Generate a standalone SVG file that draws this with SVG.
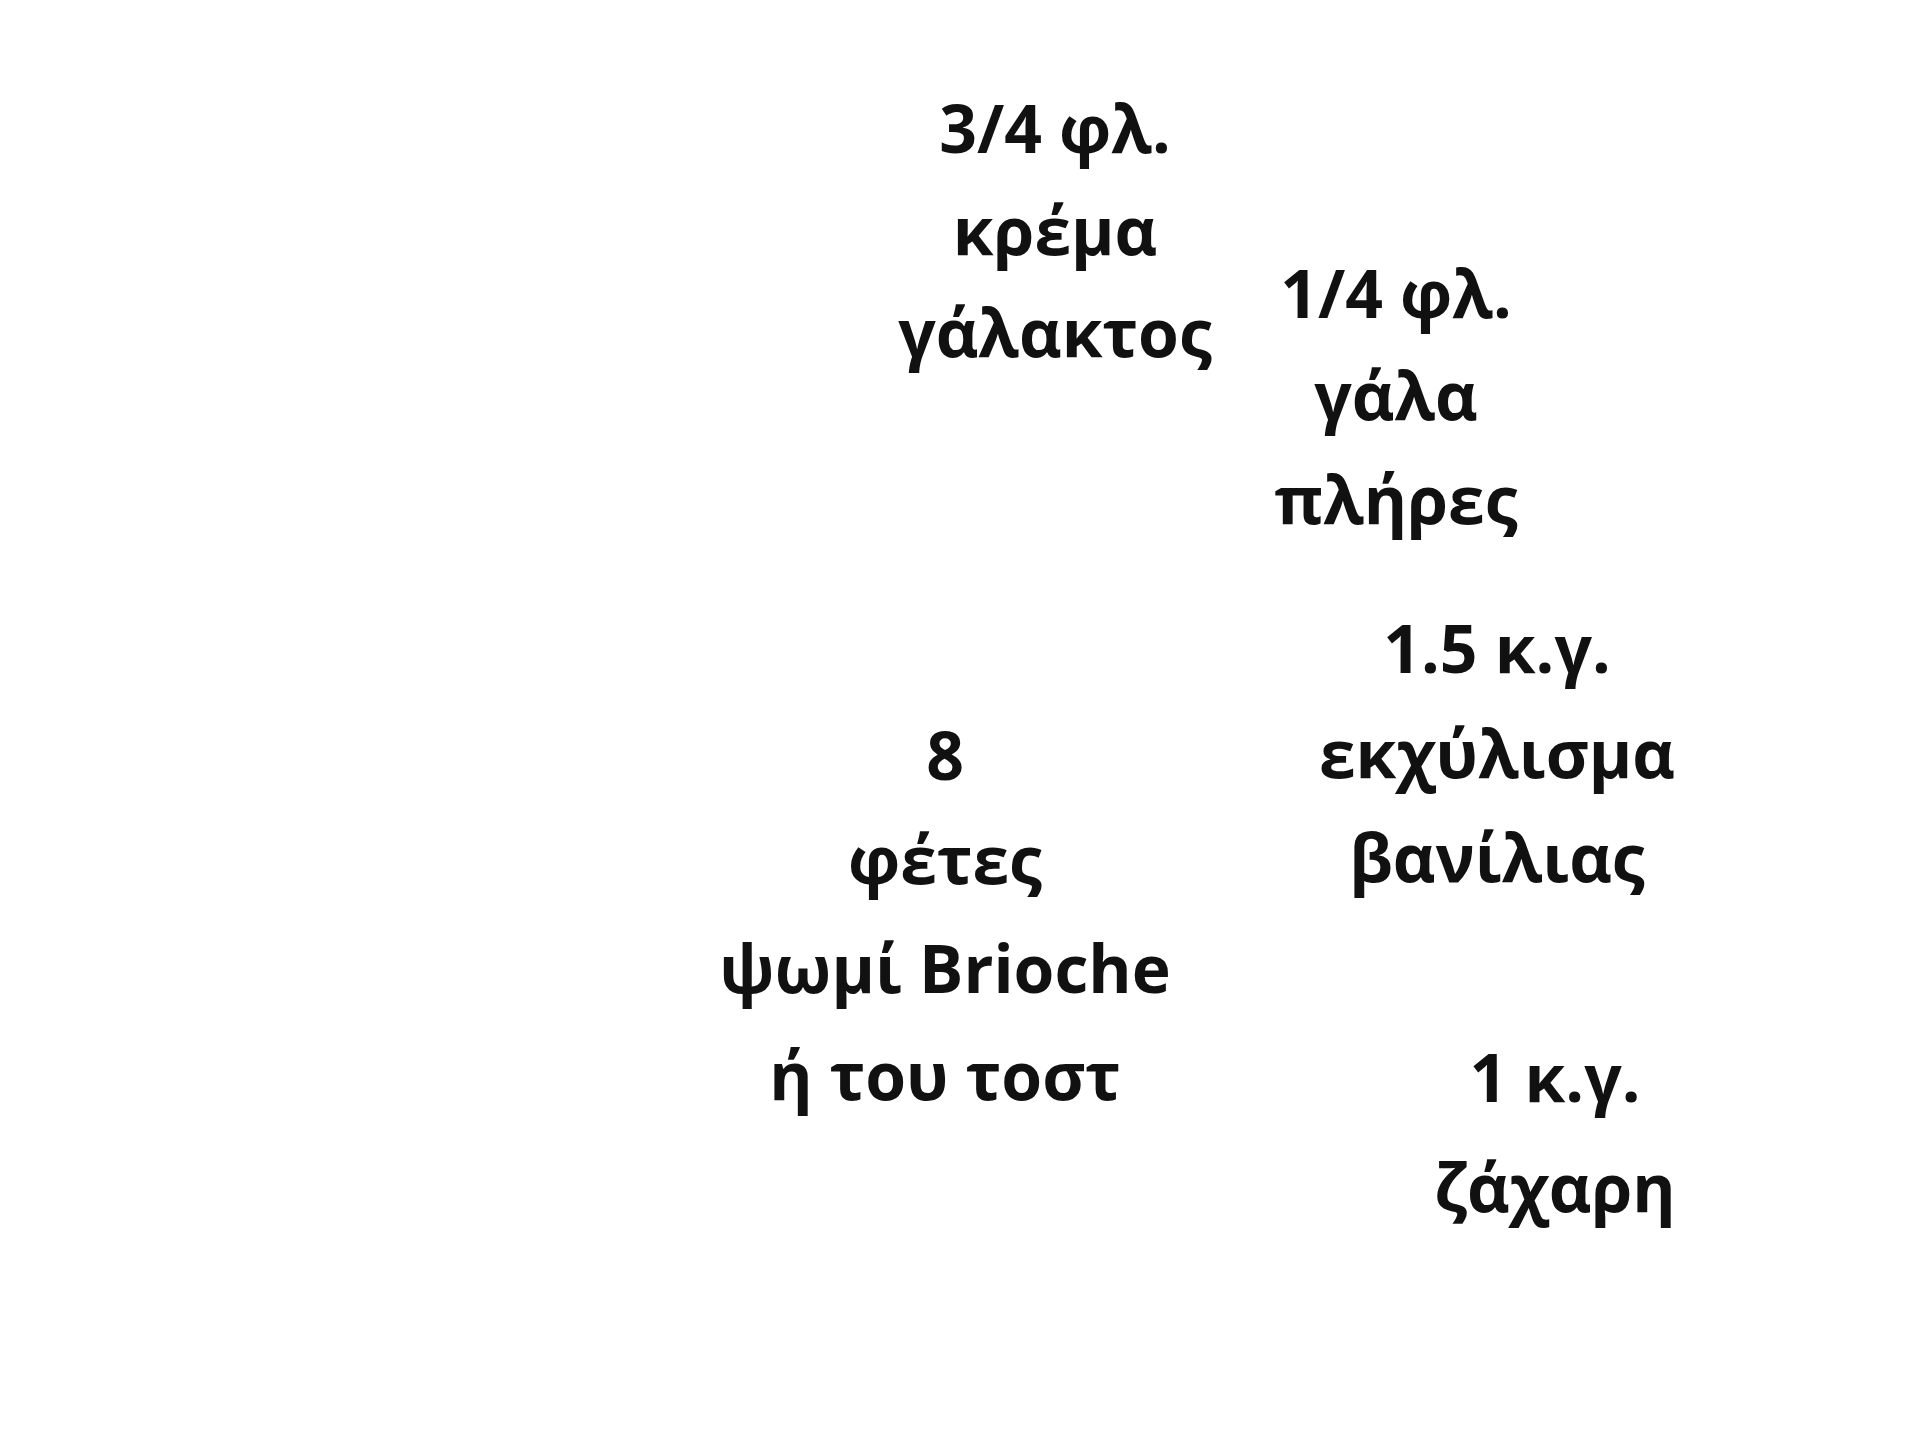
<svg xmlns="http://www.w3.org/2000/svg" width="1920" height="1440" viewBox="0 0 1920 1440">
<style>text{font-family:"Open Sans","Noto Sans",sans-serif;font-weight:700;font-size:66px;fill:#111;text-anchor:middle}</style>
<rect width="1920" height="1440" fill="#fff"/>
<g id="n1"><text x="1055" y="153">3/4 φλ.</text><text x="1055" y="255">κρέμα</text><text x="1055" y="357">γάλακτος</text></g>
<g id="n2"><text x="1396" y="318">1/4 φλ.</text><text x="1396" y="420">γάλα</text><text x="1396" y="524">πλήρες</text></g>
<g id="n3"><text x="1497" y="673">1.5 κ.γ.</text><text x="1497" y="778">εκχύλισμα</text><text x="1497" y="882">βανίλιας</text></g>
<g id="n4"><text x="945" y="780">8</text><text x="945" y="884">φέτες</text><text x="945" y="993">ψωμί Brioche</text><text x="945" y="1100">ή του τοστ</text></g>
<g id="n5"><text x="1555" y="1102">1 κ.γ.</text><text x="1555" y="1212">ζάχαρη</text></g>
<g id="connectors"/>
</svg>
